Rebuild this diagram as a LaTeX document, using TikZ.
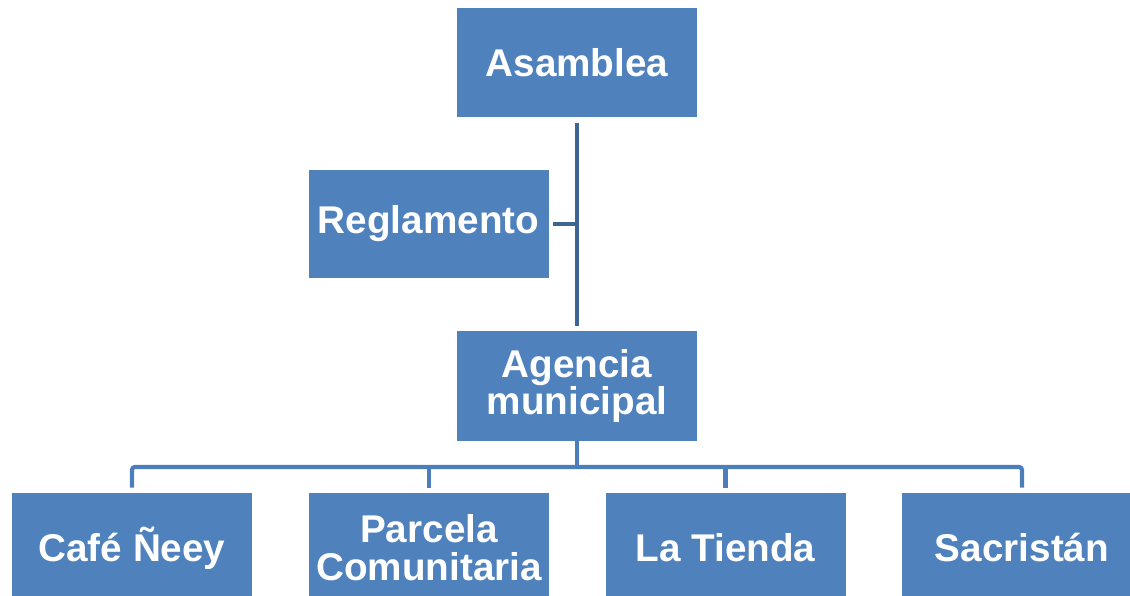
\documentclass[tikz,border=0pt]{standalone}
\usepackage{fontspec}
\setmainfont{Liberation Sans}
\definecolor{boxblue}{RGB}{79,129,189}
\definecolor{darkline}{RGB}{62,100,148}
\definecolor{lightline}{RGB}{76,126,187}
\begin{document}
\begin{tikzpicture}[x=0.025cm,y=-0.025cm,
    box/.style={fill=boxblue,minimum width=240*0.025cm,minimum height=109*0.025cm,
      inner sep=0pt,align=center,text=white,font=\fontsize{27.5}{27}\selectfont\bfseries},
    topline/.style={draw=darkline,line width=3pt},
    botline/.style={draw=lightline,line width=3pt}]
    \clip (0,0) rectangle (1130,596);
    % Boxes
    \node [box] (asamblea) at (577,62.5) {Asamblea};
    \node [box,minimum height=108*0.025cm] (reglamento) at (428.5,224) {Reglamento};
    \node [box,minimum height=110*0.025cm] (agencia) at (577,386) {Agencia\\municipal};
    \node [box,minimum height=110*0.025cm] (cafe) at (132,548) {Café Ñeey};
    \node [box,minimum height=110*0.025cm] (parcela) at (429,548) {Parcela\\Comunitaria};
    \node [box,minimum height=110*0.025cm] (tienda) at (725.5,548) {La Tienda};
    \node [box,minimum height=110*0.025cm] (sacristan) at (1022,548) {Sacristán};
    \coordinate (bus) at (577,467);

    % Connectors
    \draw [topline,shorten <=6*0.025cm,shorten >=5*0.025cm] (asamblea.south)--(agencia.north);
    \draw [topline,shorten <=4*0.025cm] (reglamento.east)--(asamblea.south |- reglamento.east);
    \draw [botline,rounded corners=3*0.025cm,shorten <=5*0.025cm,shorten >=5*0.025cm]
        (cafe.north) |- (bus) -| (sacristan.north);
    \draw [botline,shorten <=5*0.025cm] (parcela.north)--(parcela.north |- bus);
    \draw [botline,shorten <=5*0.025cm] (tienda.north)--(tienda.north |- bus);
    \draw [botline] (agencia.south)--(bus);
\end{tikzpicture}
\end{document}
